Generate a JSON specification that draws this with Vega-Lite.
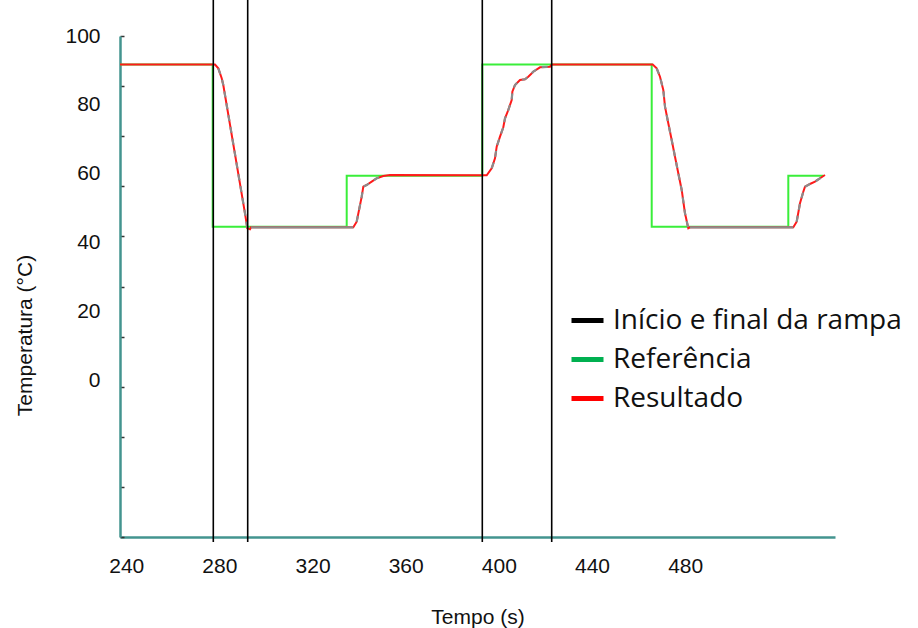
{
  "$schema": "https://vega.github.io/schema/vega-lite/v6.json",
  "width": 715,
  "height": 501,
  "autosize": {"type": "none"},
  "padding": {"left": 120, "top": 36, "right": 83, "bottom": 91},
  "background": "white",
  "config": {"view": {"stroke": null}, "font": "Liberation Sans"},
  "resolve": {"scale": {"y": "independent"}, "axis": {"y": "independent"}},
  "datasets": {
    "referencia": [
      {"t": 237.33, "v": 91.7},
      {"t": 277.13, "v": 44.6},
      {"t": 334.67, "v": 59.4},
      {"t": 392.89, "v": 91.7},
      {"t": 465.63, "v": 44.6},
      {"t": 524.28, "v": 59.4},
      {"t": 539.3, "v": 59.4}
    ],
    "resultado": [
      {"t": 237.33, "v": 91.7, "trecho": 1, "fase": "patamar"},
      {"t": 278.12, "v": 91.7, "trecho": 1, "fase": "patamar"},
      {"t": 279.54, "v": 90.61, "trecho": 2, "fase": "rampa"},
      {"t": 281.0, "v": 87.71, "trecho": 2, "fase": "rampa"},
      {"t": 281.68, "v": 85.76, "trecho": 2, "fase": "rampa"},
      {"t": 291.0, "v": 48.47, "trecho": 2, "fase": "rampa"},
      {"t": 291.99, "v": 44.12, "trecho": 2, "fase": "rampa"},
      {"t": 293.15, "v": 43.83, "trecho": 2, "fase": "rampa"},
      {"t": 293.6, "v": 44.41, "trecho": 3, "fase": "base"},
      {"t": 337.5, "v": 44.41, "trecho": 3, "fase": "base"},
      {"t": 338.96, "v": 46.03, "trecho": 4, "fase": "rampa"},
      {"t": 341.11, "v": 53.3, "trecho": 4, "fase": "rampa"},
      {"t": 341.8, "v": 56.2, "trecho": 4, "fase": "rampa"},
      {"t": 343.26, "v": 56.7, "trecho": 4, "fase": "rampa"},
      {"t": 345.4, "v": 57.66, "trecho": 4, "fase": "rampa"},
      {"t": 347.55, "v": 58.65, "trecho": 4, "fase": "rampa"},
      {"t": 350.38, "v": 59.31, "trecho": 4, "fase": "rampa"},
      {"t": 353.26, "v": 59.6, "trecho": 5, "fase": "patamar"},
      {"t": 394.78, "v": 59.5, "trecho": 5, "fase": "patamar"},
      {"t": 396.93, "v": 61.55, "trecho": 6, "fase": "rampa"},
      {"t": 398.34, "v": 64.46, "trecho": 6, "fase": "rampa"},
      {"t": 399.07, "v": 67.83, "trecho": 6, "fase": "rampa"},
      {"t": 400.49, "v": 70.74, "trecho": 6, "fase": "rampa"},
      {"t": 401.91, "v": 73.47, "trecho": 6, "fase": "rampa"},
      {"t": 402.64, "v": 76.08, "trecho": 6, "fase": "rampa"},
      {"t": 404.05, "v": 78.49, "trecho": 6, "fase": "rampa"},
      {"t": 405.51, "v": 81.4, "trecho": 6, "fase": "rampa"},
      {"t": 405.8, "v": 83.81, "trecho": 6, "fase": "rampa"},
      {"t": 406.93, "v": 85.76, "trecho": 6, "fase": "rampa"},
      {"t": 409.08, "v": 87.21, "trecho": 6, "fase": "rampa"},
      {"t": 411.22, "v": 87.42, "trecho": 6, "fase": "rampa"},
      {"t": 412.64, "v": 88.17, "trecho": 6, "fase": "rampa"},
      {"t": 414.79, "v": 89.63, "trecho": 6, "fase": "rampa"},
      {"t": 417.66, "v": 90.9, "trecho": 6, "fase": "rampa"},
      {"t": 421.96, "v": 91.08, "trecho": 6, "fase": "rampa"},
      {"t": 422.69, "v": 91.7, "trecho": 7, "fase": "patamar"},
      {"t": 466.05, "v": 91.7, "trecho": 7, "fase": "patamar"},
      {"t": 467.77, "v": 90.61, "trecho": 8, "fase": "rampa"},
      {"t": 469.19, "v": 88.17, "trecho": 8, "fase": "rampa"},
      {"t": 470.61, "v": 84.31, "trecho": 8, "fase": "rampa"},
      {"t": 471.34, "v": 79.45, "trecho": 8, "fase": "rampa"},
      {"t": 472.75, "v": 74.63, "trecho": 8, "fase": "rampa"},
      {"t": 474.21, "v": 69.78, "trecho": 8, "fase": "rampa"},
      {"t": 475.63, "v": 64.92, "trecho": 8, "fase": "rampa"},
      {"t": 477.05, "v": 60.1, "trecho": 8, "fase": "rampa"},
      {"t": 478.51, "v": 55.25, "trecho": 8, "fase": "rampa"},
      {"t": 479.92, "v": 48.47, "trecho": 8, "fase": "rampa"},
      {"t": 481.34, "v": 44.12, "trecho": 8, "fase": "rampa"},
      {"t": 482.07, "v": 44.41, "trecho": 9, "fase": "base"},
      {"t": 526.42, "v": 44.41, "trecho": 9, "fase": "base"},
      {"t": 527.88, "v": 46.03, "trecho": 10, "fase": "rampa"},
      {"t": 529.3, "v": 51.38, "trecho": 10, "fase": "rampa"},
      {"t": 530.72, "v": 54.75, "trecho": 10, "fase": "rampa"},
      {"t": 531.45, "v": 56.2, "trecho": 10, "fase": "rampa"},
      {"t": 533.59, "v": 56.99, "trecho": 10, "fase": "rampa"},
      {"t": 535.74, "v": 57.66, "trecho": 10, "fase": "rampa"},
      {"t": 537.89, "v": 58.65, "trecho": 10, "fase": "rampa"},
      {"t": 540.03, "v": 59.6, "trecho": 10, "fase": "rampa"}
    ],
    "rampas": [
      {"t": 277.39, "serie": "Início e final da rampa"},
      {"t": 292.16, "serie": "Início e final da rampa"},
      {"t": 392.89, "serie": "Início e final da rampa"},
      {"t": 422.69, "serie": "Início e final da rampa"}
    ]
  },
  "layer": [
    {
      "data": {"name": "referencia"},
      "mark": {"type": "line", "color": "#3aee3a", "strokeWidth": 2, "interpolate": "step-after"},
      "encoding": {
        "x": {
          "field": "t",
          "type": "quantitative",
          "scale": {"domain": [237.33, 544.33], "nice": false, "zero": false},
          "axis": {
            "title": "Tempo (s)",
            "values": [240, 280, 320, 360, 400, 440, 480],
            "ticks": false,
            "tickSize": 0,
            "grid": false,
            "domainColor": "#43948f",
            "domainWidth": 2.5,
            "labelFont": "Liberation Sans",
            "labelFontSize": 21,
            "labelColor": "#111111",
            "labelPadding": 18,
            "labelFlush": false,
            "labelOverlap": false,
            "titleFont": "Liberation Sans",
            "titleFontSize": 21,
            "titleFontWeight": "normal",
            "titleColor": "#111111",
            "titleY": 86,
            "titleBaseline": "alphabetic"
          }
        },
        "y": {
          "field": "v",
          "type": "quantitative",
          "scale": {"domain": [-45.6, 100], "nice": false, "zero": false},
          "axis": {
            "title": "Temperatura (°C)",
            "values": [100, 85.44, 80, 70.88, 60, 56.32, 41.76, 40, 27.2, 20, 12.64, 0, -1.92, -16.48, -31.04, -45.6],
            "labelExpr": "indexof([100, 80, 60, 40, 20, 0], datum.value) >= 0 ? '' + datum.value : ''",
            "tickOpacity": {"condition": {"test": "indexof([100, 85.44, 70.88, 56.32, 41.76, 27.2, 12.64, -1.92, -16.48, -31.04, -45.6], datum.value) >= 0", "value": 1}, "value": 0},
            "grid": false,
            "domainColor": "#43948f",
            "domainWidth": 2.5,
            "tickColor": "#333333",
            "tickSize": -4,
            "tickWidth": 1.5,
            "labelFont": "Liberation Sans",
            "labelFontSize": 21,
            "labelColor": "#111111",
            "labelPadding": 24,
            "labelFlush": false,
            "labelOverlap": false,
            "titleFont": "Liberation Sans",
            "titleFontSize": 21,
            "titleFontWeight": "normal",
            "titleColor": "#111111",
            "titleX": -95,
            "titleY": 299,
            "titleBaseline": "middle"
          }
        }
      }
    },
    {
      "data": {"name": "resultado"},
      "mark": {"type": "line", "color": "#ff1a1a", "strokeWidth": 2},
      "encoding": {
        "x": {"field": "t", "type": "quantitative"},
        "y": {"field": "v", "type": "quantitative", "scale": {"domain": [-45.6, 100], "nice": false, "zero": false}, "axis": null}
      }
    },
    {
      "data": {"name": "resultado"},
      "transform": [{"filter": "datum.fase === 'base'"}],
      "mark": {"type": "line", "color": "#8c8c8c", "strokeWidth": 2.2},
      "encoding": {
        "x": {"field": "t", "type": "quantitative"},
        "y": {"field": "v", "type": "quantitative", "scale": {"domain": [-45.6, 100], "nice": false, "zero": false}, "axis": null},
        "detail": {"field": "trecho", "type": "nominal"}
      }
    },
    {
      "data": {"name": "resultado"},
      "transform": [{"filter": "datum.fase === 'rampa'"}],
      "mark": {"type": "line", "color": "#8c8c8c", "strokeWidth": 2.2, "strokeDash": [6, 6]},
      "encoding": {
        "x": {"field": "t", "type": "quantitative"},
        "y": {"field": "v", "type": "quantitative", "scale": {"domain": [-45.6, 100], "nice": false, "zero": false}, "axis": null},
        "detail": {"field": "trecho", "type": "nominal"}
      }
    },
    {
      "data": {"name": "rampas"},
      "mark": {"type": "rule", "strokeWidth": 1.6, "clip": false},
      "encoding": {
        "x": {"field": "t", "type": "quantitative"},
        "y": {"datum": 110.46, "type": "quantitative", "scale": {"domain": [-45.6, 100], "nice": false, "zero": false}, "axis": null},
        "y2": {"datum": -47.05},
        "color": {
          "field": "serie",
          "type": "nominal",
          "scale": {"domain": ["Início e final da rampa", "Referência", "Resultado"], "range": ["#000000", "#00b050", "#ff0000"]},
          "legend": {
            "orient": "none",
            "legendX": 449,
            "legendY": 266,
            "title": null,
            "padding": 0,
            "symbolType": "stroke",
            "symbolSize": 1024,
            "symbolStrokeWidth": 5,
            "labelFont": "Open Sans",
            "labelFontSize": 28,
            "labelColor": "#111111",
            "labelOffset": 7,
            "labelLimit": 0,
            "rowPadding": 6
          }
        }
      }
    }
  ]
}
